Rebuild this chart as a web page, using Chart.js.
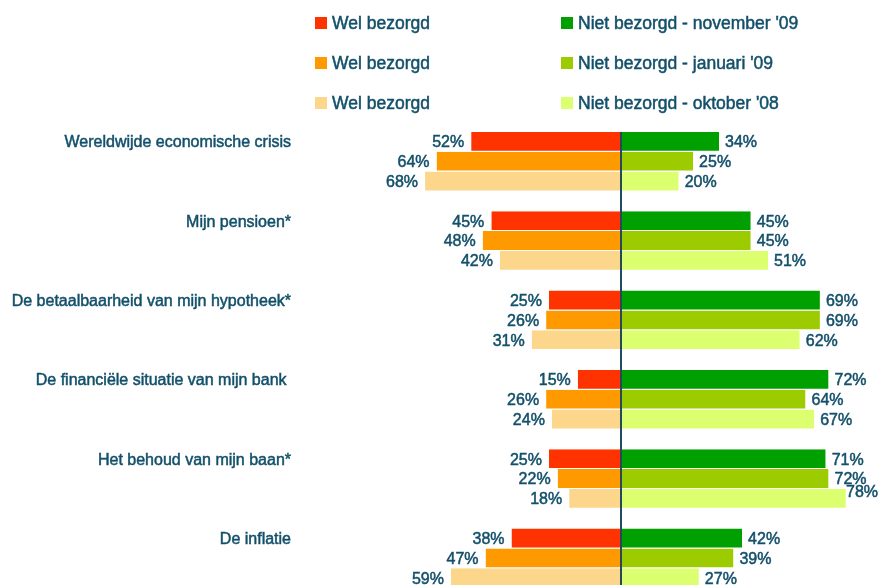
<!DOCTYPE html>
<html>
<head>
<meta charset="utf-8">
<script src="https://cdn.jsdelivr.net/npm/chart.js@4/dist/chart.umd.min.js"></script>
<style>
    html, body { margin: 0; padding: 0; background: #fff; overflow: hidden; }
    #wrap { position: relative; width: 879px; height: 598px; }
</style>
</head>
<body>
<div id="wrap"><canvas id="chart_zorgen"></canvas></div>
<script>
// categorieen en percentages
const categories = [
    "Wereldwijde economische crisis",
    "Mijn pensioen*",
    "De betaalbaarheid van mijn hypotheek*",
    "De financiële situatie van mijn bank ",
    "Het behoud van mijn baan*",
    "De inflatie"
];
const welNov = [52, 45, 25, 15, 25, 38];
const welJan = [64, 48, 26, 26, 22, 47];
const welOkt = [68, 42, 31, 24, 18, 59];
const nietNov = [34, 45, 69, 72, 71, 42];
const nietJan = [25, 45, 69, 64, 72, 39];
const nietOkt = [20, 51, 62, 67, 78, 27];
const legendLabels = ["Wel bezorgd", "Wel bezorgd", "Wel bezorgd",
    "Niet bezorgd - november '09", "Niet bezorgd - januari '09", "Niet bezorgd - oktober '08"];

const textColor = "#13506a";
const fontName = "'Liberation Sans', Arial, sans-serif";

function makeSet(label, values, color, stack, negative) {
    return {
        label: label,
        data: values.map(v => negative ? -v : v),
        backgroundColor: color,
        borderColor: "#ffffff",
        borderWidth: {top: 0, right: 0, bottom: 1, left: 0},
        borderSkipped: false,
        stack: stack
    };
}

// tekst iets zwaarder, zoals in het origineel
function heavyText(ctx, txt, x, y) {
    ctx.fillText(txt, x, y);
    ctx.strokeText(txt, x, y);
}

const labelPlugin = {
    id: "labelPlugin",
    afterDatasetsDraw: function(chart) {
        const ctx = chart.ctx;
        ctx.save();
        // middenlijn
        const x0 = chart.scales.x.getPixelForValue(0);
        const first = chart.getDatasetMeta(0).data[0];
        ctx.fillStyle = "#23495c";
        ctx.fillRect(Math.round(x0) - 1, first.y - first.height / 2, 2, chart.height);

        ctx.font = "16px " + fontName;
        ctx.fillStyle = textColor;
        ctx.strokeStyle = textColor;
        ctx.lineWidth = 0.5;
        ctx.textBaseline = "middle";
        chart.data.datasets.forEach(function(ds, di) {
            const meta = chart.getDatasetMeta(di);
            meta.data.forEach(function(bar, i) {
                const v = ds.data[i];
                const txt = Math.abs(v) + "%";
                let y = bar.y + 1;
                if (v < 0) {
                    ctx.textAlign = "right";
                    heavyText(ctx, txt, bar.x - 7, y);
                } else {
                    ctx.textAlign = "left";
                    let x = bar.x + 6;
                    const w = ctx.measureText(txt).width;
                    if (x + w > chart.width - 1) {
                        x = chart.width - w - 1;
                        y -= 7;
                    }
                    heavyText(ctx, txt, x, y);
                }
            });
        });

        // categorie labels op hoogte van de eerste balk
        ctx.textAlign = "right";
        const meta0 = chart.getDatasetMeta(0);
        categories.forEach(function(c, i) {
            heavyText(ctx, c, 291, meta0.data[i].y + 1);
        });

        // legenda in twee kolommen
        ctx.font = "17.5px " + fontName;
        for (let k = 0; k < 6; k++) {
            const col = k < 3 ? 0 : 1;
            const row = k % 3;
            const sx = col == 0 ? 315 : 561;
            const cy = 23 + row * 40;
            ctx.fillStyle = chart.data.datasets[k].backgroundColor;
            ctx.fillRect(sx, cy - 6, 12, 12);
            ctx.fillStyle = textColor;
            ctx.textAlign = "left";
            heavyText(ctx, legendLabels[k], sx + 17, cy + 1);
        }
        ctx.restore();
    }
};

const ctx = document.getElementById('chart_zorgen');
new Chart(ctx, {
    type: 'bar',
    data: {
        labels: categories,
        datasets: [
            makeSet(legendLabels[0], welNov, "#ff3300", "nov", true),
            makeSet(legendLabels[1], welJan, "#ff9900", "jan", true),
            makeSet(legendLabels[2], welOkt, "#fcd68a", "okt", true),
            makeSet(legendLabels[3], nietNov, "#00a000", "nov", false),
            makeSet(legendLabels[4], nietJan, "#9ccc00", "jan", false),
            makeSet(legendLabels[5], nietOkt, "#dcff70", "okt", false)
        ]
    },
    options: {
        indexAxis: 'y',
        responsive: true,
        maintainAspectRatio: false,
        animation: false,
        devicePixelRatio: 1,
        categoryPercentage: 0.75,
        barPercentage: 1,
        layout: {
            padding: {left: 304, right: 0, top: 122, bottom: 0}
        },
        scales: {
            x: {
                display: false,
                stacked: true,
                min: -110,
                max: 89.5
            },
            y: {
                display: false,
                stacked: true
            }
        },
        plugins: {
            legend: { display: false },
            tooltip: { enabled: false }
        }
    },
    plugins: [labelPlugin]
});
</script>
</body>
</html>
